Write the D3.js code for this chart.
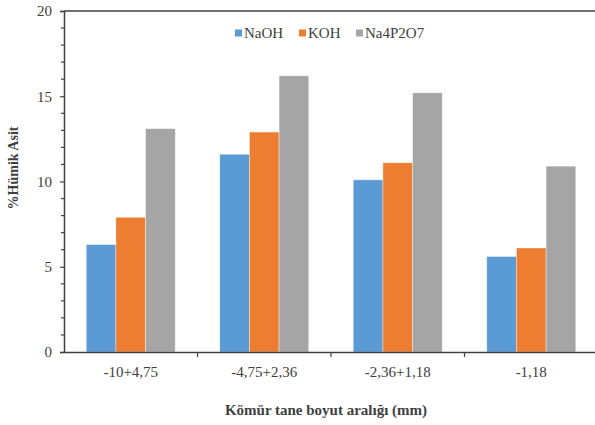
<!DOCTYPE html>
<html>
<head>
<meta charset="utf-8">
<script src="https://cdn.jsdelivr.net/npm/d3@7"></script>
<style>
  body { margin: 0; background: #fff; }
  text { font-family: "Liberation Serif", "Times New Roman", serif; fill: #404040; }
</style>
</head>
<body>
<div id="main"></div>
<script>
// chart data
const categories = ["-10+4,75", "-4,75+2,36", "-2,36+1,18", "-1,18"];
const seriesNames = ["NaOH", "KOH", "Na4P2O7"];
const naoh = [6.3, 11.6, 10.1, 5.6];
const koh = [7.9, 12.9, 11.1, 6.1];
const na4p2o7 = [13.1, 16.2, 15.2, 10.9];
const yTicks = [0, 5, 10, 15, 20];
const colors = ["#5B9BD5", "#ED7D31", "#A5A5A5"];

const W = 595, H = 425;
const m = { left: 64, right: 598, top: 11, bottom: 352 };

const svg = d3.select("#main").append("svg")
    .attr("width", W)
    .attr("height", H);

const rows = categories.map((c, i) => ({ cat: c, vals: [naoh[i], koh[i], na4p2o7[i]] }));

const x = d3.scaleBand().domain(categories).range([m.left, m.right]).paddingInner(0).paddingOuter(0);
// gap width 150% -> bars occupy 3/(3+1.5) of the category
const x1 = d3.scaleBand().domain(seriesNames).range([0, x.bandwidth()]).paddingInner(0).paddingOuter(0.75);
const y = d3.scaleLinear().domain([0, 20]).range([m.bottom, m.top]);

// bars
svg.append("g").selectAll("g")
    .data(rows)
    .enter().append("g")
    .attr("transform", d => "translate(" + x(d.cat) + ",0)")
    .selectAll("rect")
    .data(d => d.vals.map((v, k) => ({ name: seriesNames[k], v: v, k: k })))
    .enter().append("rect")
    .attr("x", d => x1(d.name))
    .attr("y", d => y(d.v))
    .attr("width", x1.bandwidth())
    .attr("height", d => y(0) - y(d.v))
    .attr("fill", d => colors[d.k])
    .attr("stroke", "#fff")
    .attr("stroke-opacity", 0.5)
    .attr("stroke-width", 0.75);

// top border
svg.append("line")
    .attr("x1", m.left).attr("x2", m.right)
    .attr("y1", m.top).attr("y2", m.top)
    .attr("stroke", "#404040").attr("stroke-width", 1.5);

// y axis
const yAxis = svg.append("g")
    .attr("transform", "translate(" + m.left + ",0)")
    .call(d3.axisLeft(y).tickValues(yTicks).tickSize(4).tickPadding(8));
yAxis.select(".domain").attr("stroke", "#404040").attr("stroke-width", 1.5);
yAxis.selectAll(".tick line").attr("stroke", "#404040").attr("stroke-width", 1.2);
yAxis.selectAll(".tick text").style("font-size", "15px").attr("fill", "#404040")
    .style("font-family", "Liberation Serif");

// minor ticks
svg.append("g").selectAll("line")
    .data(d3.range(1, 20).filter(v => v % 5 !== 0))
    .enter().append("line")
    .attr("x1", m.left - 3).attr("x2", m.left + 1)
    .attr("y1", d => y(d)).attr("y2", d => y(d))
    .attr("stroke", "#404040").attr("stroke-width", 1.2);

// x axis
const xAxis = svg.append("g")
    .attr("transform", "translate(0," + m.bottom + ")")
    .call(d3.axisBottom(x).tickSize(0).tickPadding(14));
xAxis.select(".domain").attr("stroke", "#404040").attr("stroke-width", 1.5);
xAxis.selectAll(".tick text").style("font-size", "15px").attr("fill", "#404040")
    .style("font-family", "Liberation Serif");
// boundary ticks between categories
svg.append("g").selectAll("line")
    .data(categories.slice(1))
    .enter().append("line")
    .attr("x1", d => x(d)).attr("x2", d => x(d))
    .attr("y1", m.bottom).attr("y2", m.bottom + 5)
    .attr("stroke", "#404040").attr("stroke-width", 1.2);

// axis titles
svg.append("text")
    .attr("transform", "translate(18,168) rotate(-90)")
    .attr("text-anchor", "middle")
    .style("font-size", "14px")
    .style("font-weight", "bold")
    .attr("fill", "#000")
    .text("%Hümik Asit");

svg.append("text")
    .attr("x", 326).attr("y", 415)
    .attr("text-anchor", "middle")
    .style("font-size", "15px")
    .style("font-weight", "bold")
    .attr("fill", "#000")
    .text("Kömür tane boyut aralığı (mm)");

// legend
const legendX = [235, 299, 356];
const lg = svg.append("g").selectAll("g")
    .data(seriesNames)
    .enter().append("g")
    .attr("transform", (d, i) => "translate(" + legendX[i] + ",33)");
lg.append("rect")
    .attr("x", 0).attr("y", -3.5)
    .attr("width", 7).attr("height", 7)
    .attr("fill", (d, i) => colors[i]);
lg.append("text")
    .attr("x", 9).attr("y", 5)
    .style("font-size", "15px")
    .attr("fill", "#404040")
    .text(d => d);
</script>
</body>
</html>
